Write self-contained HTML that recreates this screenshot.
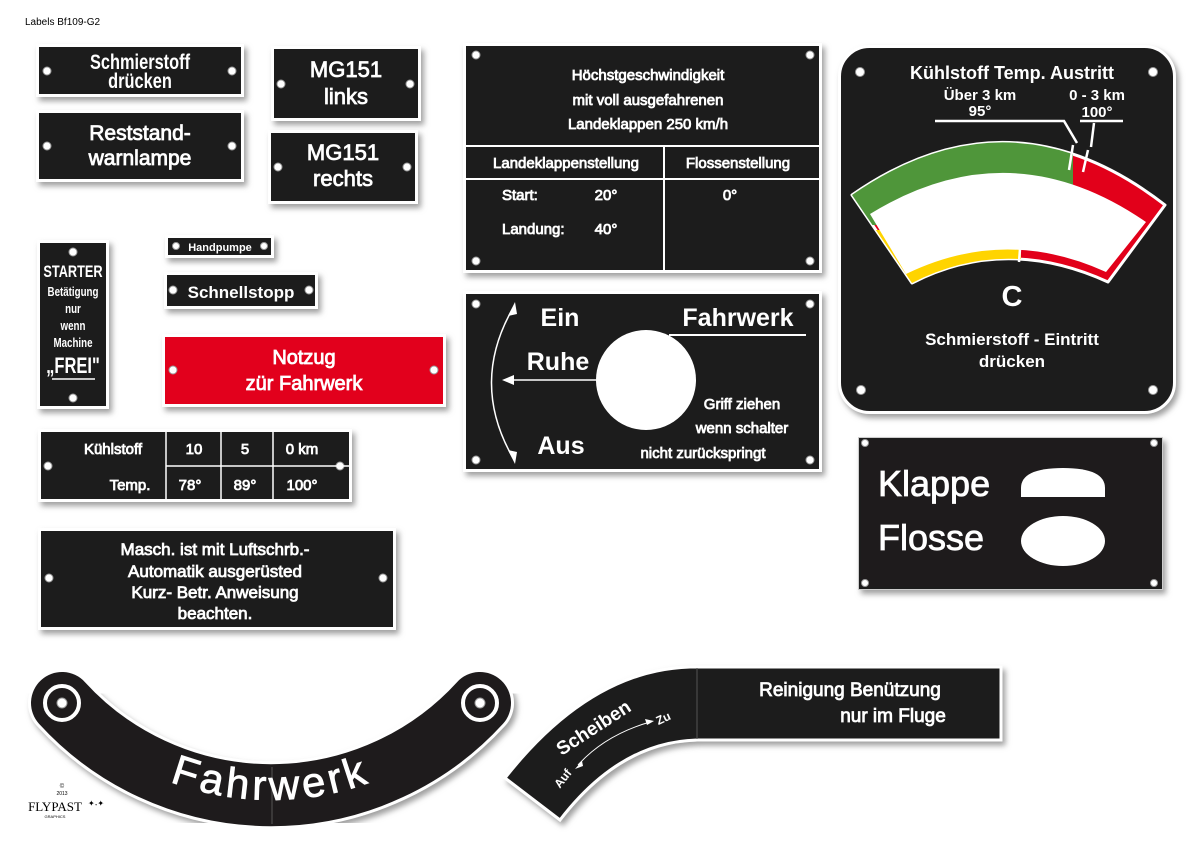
<!DOCTYPE html>
<html><head><meta charset="utf-8"><style>
html,body{margin:0;padding:0;background:#fff;overflow:hidden;}
svg{display:block;}
text{font-family:"Liberation Sans",sans-serif;fill:#fff;}
.b{font-weight:bold;}
.m{stroke:#fff;stroke-width:.8;}
.c{text-anchor:middle;}
</style></head><body>
<svg width="1191" height="842" viewBox="0 0 1191 842" xmlns="http://www.w3.org/2000/svg" xmlns:xlink="http://www.w3.org/1999/xlink">
<defs>
<filter id="sh" x="-10%" y="-10%" width="130%" height="140%"><feDropShadow dx="3" dy="4" stdDeviation="3" flood-color="#777" flood-opacity="0.7"/></filter>
<clipPath id="cg"><rect x="840" y="100" width="233" height="125"/></clipPath>
<clipPath id="cy"><rect x="840" y="230" width="181" height="80"/></clipPath>
<path id="tp" d="M0.4,610.5 A288,288 0 0 0 541.6,610.5" fill="none"/>
</defs>
<rect width="1191" height="842" fill="#fff"/>
<text x="25" y="25" style="fill:#000;font-size:10px">Labels Bf109-G2</text>

<g fill="#1e1b1c" stroke="#fff" stroke-width="3" filter="url(#sh)">
<rect x="37.5" y="45.5" width="205" height="50"/>
<rect x="37.5" y="111.5" width="205" height="69"/>
<rect x="272.5" y="47.5" width="147" height="72"/>
<rect x="269.5" y="131.5" width="147" height="71"/>
<rect x="38.5" y="241.5" width="69" height="166"/>
<rect x="166.5" y="236.5" width="106" height="20"/>
<rect x="165.5" y="273.5" width="151" height="34"/>
<rect x="163.5" y="335.5" width="281" height="70" fill="#e2001a"/>
<rect x="39.5" y="430.5" width="311" height="70"/>
<rect x="39.5" y="529.5" width="355" height="99"/>
<rect x="464.5" y="44.5" width="356" height="227"/>
<rect x="464.5" y="292.5" width="356" height="178"/>
<rect x="839.5" y="46.5" width="335" height="366" rx="30"/>
<rect x="858.5" y="437.5" width="304" height="152" stroke="#ccc" stroke-width="1"/>
</g>
<rect x="861" y="440" width="299" height="147" fill="#1e1b1c"/>

<g fill="#fff" stroke="#999" stroke-width="1">
<circle cx="47" cy="71" r="4"/><circle cx="232" cy="71" r="4"/>
<circle cx="47" cy="146" r="4"/><circle cx="232" cy="146" r="4"/>
<circle cx="281" cy="84" r="4"/><circle cx="410" cy="84" r="4"/>
<circle cx="278" cy="167" r="4"/><circle cx="407" cy="167" r="4"/>
<circle cx="73" cy="252" r="4"/><circle cx="73" cy="398" r="4"/>
<circle cx="176" cy="246" r="3.5"/><circle cx="264" cy="246" r="3.5"/>
<circle cx="173" cy="290" r="4"/><circle cx="309" cy="290" r="4"/>
<circle cx="173" cy="370" r="4"/><circle cx="434" cy="370" r="4"/>
<circle cx="48" cy="466" r="4"/><circle cx="340" cy="466" r="4"/>
<circle cx="49" cy="578" r="4"/><circle cx="383" cy="578" r="4"/>
<circle cx="476" cy="55" r="4"/><circle cx="810" cy="55" r="4"/><circle cx="476" cy="261" r="4"/><circle cx="810" cy="261" r="4"/>
<circle cx="476" cy="304" r="4"/><circle cx="810" cy="304" r="4"/><circle cx="476" cy="460" r="4"/><circle cx="810" cy="460" r="4"/>
<circle cx="860" cy="72" r="4.5"/><circle cx="1153" cy="72" r="4.5"/><circle cx="861" cy="390" r="4.5"/><circle cx="1153" cy="390" r="4.5"/>
<circle cx="865" cy="443" r="3.5"/><circle cx="1154" cy="443" r="3.5"/><circle cx="865" cy="583" r="3.5"/><circle cx="1154" cy="583" r="3.5"/>
</g>

<g transform="translate(140 0) scale(0.78 1)">
<text class="b c" x="0" y="69" font-size="21">Schmierstoff</text>
<text class="b c" x="0" y="88" font-size="21">drücken</text>
</g>
<text class="m c" x="140" y="140" font-size="21">Reststand-</text>
<text class="m c" x="140" y="165" font-size="21">warnlampe</text>
<text class="m c" x="346" y="77" font-size="22">MG151</text>
<text class="m c" x="346" y="104" font-size="22">links</text>
<text class="m c" x="343" y="160" font-size="22">MG151</text>
<text class="m c" x="343" y="186" font-size="22">rechts</text>
<g transform="translate(73 0) scale(0.75 1)">
<text class="b c" x="0" y="277" font-size="17">STARTER</text>
<text class="b c" x="0" y="296" font-size="13">Betätigung</text>
<text class="b c" x="0" y="313" font-size="13">nur</text>
<text class="b c" x="0" y="330" font-size="13">wenn</text>
<text class="b c" x="0" y="347" font-size="13">Machine</text>
<text class="b c" x="0" y="373" font-size="22">„FREI"</text>
</g>
<line x1="52" y1="379" x2="95" y2="379" stroke="#fff" stroke-width="1.5"/>
<text class="b c" x="220" y="251" font-size="11">Handpumpe</text>
<text class="b c" x="241" y="298" font-size="17">Schnellstopp</text>
<text class="m c" x="304" y="364" font-size="20">Notzug</text>
<text class="m c" x="304" y="390" font-size="20">zür Fahrwerk</text>

<g stroke="#fff" stroke-width="1.5"><line x1="166" y1="431" x2="166" y2="500"/><line x1="221" y1="431" x2="221" y2="500"/><line x1="273" y1="431" x2="273" y2="500"/><line x1="166" y1="466" x2="350" y2="466"/></g>
<text class="m c" x="113" y="454" font-size="15">Kühlstoff</text>
<text class="m c" x="130" y="490" font-size="15">Temp.</text>
<text class="m c" x="194" y="454" font-size="15">10</text>
<text class="m c" x="245" y="454" font-size="15">5</text>
<text class="m c" x="302" y="454" font-size="15">0 km</text>
<text class="m c" x="190" y="490" font-size="15">78°</text>
<text class="m c" x="245" y="490" font-size="15">89°</text>
<text class="m c" x="302" y="490" font-size="15">100°</text>

<text class="m c" x="215" y="555" font-size="17">Masch. ist mit Luftschrb.-</text>
<text class="m c" x="215" y="577" font-size="17">Automatik ausgerüsted</text>
<text class="m c" x="215" y="598" font-size="17">Kurz- Betr. Anweisung</text>
<text class="m c" x="215" y="619" font-size="17">beachten.</text>

<text class="m c" x="648" y="80" font-size="15">Höchstgeschwindigkeit</text>
<text class="m c" x="648" y="105" font-size="15">mit voll ausgefahrenen</text>
<text class="m c" x="648" y="129" font-size="15">Landeklappen 250 km/h</text>
<g stroke="#fff" stroke-width="2"><line x1="465" y1="146" x2="820" y2="146"/><line x1="465" y1="179" x2="820" y2="179"/><line x1="664" y1="146" x2="664" y2="271"/></g>
<text class="m c" x="566" y="168" font-size="15">Landeklappenstellung</text>
<text class="m c" x="738" y="168" font-size="15">Flossenstellung</text>
<text class="m" x="502" y="200" font-size="15">Start:</text>
<text class="m c" x="606" y="200" font-size="15">20°</text>
<text class="m" x="502" y="234" font-size="15">Landung:</text>
<text class="m c" x="606" y="234" font-size="15">40°</text>
<text class="m c" x="730" y="200" font-size="15">0°</text>

<text class="b c" x="560" y="326" font-size="25">Ein</text>
<text class="b c" x="738" y="326" font-size="25">Fahrwerk</text>
<line x1="669" y1="335" x2="806" y2="335" stroke="#fff" stroke-width="2"/>
<text class="b c" x="558" y="370" font-size="25">Ruhe</text>
<text class="b c" x="561" y="454" font-size="25">Aus</text>
<circle cx="646" cy="380" r="50" fill="#fff"/>
<text class="m c" x="742" y="409" font-size="15">Griff ziehen</text>
<text class="m c" x="742" y="433" font-size="15">wenn schalter</text>
<text class="m c" x="703" y="458" font-size="15">nicht zurückspringt</text>
<path d="M513,308 Q470,383 513,458" fill="none" stroke="#fff" stroke-width="1.5"/>
<path d="M515,302 L508,316 L517,314 Z M515,464 L508,450 L517,452 Z" fill="#fff"/>
<line x1="597" y1="380" x2="510" y2="380" stroke="#fff" stroke-width="1.5"/>
<path d="M502,380 L514,375 L514,385 Z" fill="#fff"/>

<text class="b c" x="1012" y="79" font-size="18">Kühlstoff Temp. Austritt</text>
<text class="b c" x="980" y="100" font-size="15">Über 3 km</text>
<text class="b c" x="980" y="116" font-size="15">95°</text>
<text class="b c" x="1097" y="100" font-size="15">0 - 3 km</text>
<text class="b c" x="1097" y="117" font-size="15">100°</text>
<path d="M852,195 Q1010,85 1165,205 L1108,282 Q1005,235 912,283 Z" fill="#e2001a" stroke="#fff" stroke-width="3" stroke-linejoin="round"/>
<path d="M852,195 Q1010,85 1165,205 L1108,282 Q1005,235 912,283 Z" fill="#4f963a" clip-path="url(#cg)"/>
<path d="M852,195 Q1010,85 1165,205 L1108,282 Q1005,235 912,283 Z" fill="#ffd400" clip-path="url(#cy)"/>
<path d="M870,214 Q1010,128 1146,222 L1106,272 Q1005,226 906,274 Z" fill="#fff"/>
<g stroke="#fff" stroke-width="2.5" fill="none">
<line x1="1073" y1="145" x2="1069" y2="170"/><line x1="1088" y1="150" x2="1083" y2="172"/><line x1="1021" y1="236" x2="1019" y2="262"/>
<polyline points="935,121 1064,121 1077,143"/><line x1="1080" y1="121" x2="1123" y2="121"/><line x1="1094" y1="123" x2="1091" y2="147"/>
</g>
<text class="b c" x="1012" y="306" font-size="29">C</text>
<text class="b c" x="1012" y="345" font-size="17">Schmierstoff - Eintritt</text>
<text class="b c" x="1012" y="367" font-size="17">drücken</text>

<text x="878" y="496" font-size="36" class="m">Klappe</text>
<text x="878" y="550" font-size="36" class="m">Flosse</text>
<path d="M1021,497 L1021,488 Q1021,468 1063,468 Q1105,468 1105,488 L1105,497 Z" fill="#fff"/>
<ellipse cx="1063" cy="541" rx="42" ry="25" fill="#fff"/>

<g fill="none" stroke-linecap="round" filter="url(#sh)">
<path d="M62,703 A283,283 0 0 0 480,703" stroke="#fff" stroke-width="68"/>
</g>
<path d="M62,703 A283,283 0 0 0 480,703" fill="none" stroke="#1e1b1c" stroke-width="62" stroke-linecap="round"/>
<line x1="272" y1="767" x2="272" y2="824" stroke="#555" stroke-width="1"/>
<g fill="none" stroke="#fff" stroke-width="4"><circle cx="62" cy="703" r="17"/><circle cx="480" cy="703" r="17"/></g>
<g fill="#fff" stroke="#999"><circle cx="62" cy="703" r="5"/><circle cx="480" cy="703" r="5"/></g>
<text font-size="42" class="m" letter-spacing="4"><textPath xlink:href="#tp" href="#tp" startOffset="50%" text-anchor="middle">Fahrwerk</textPath></text>

<path d="M1001,667 L690,667 Q590,670 505,778 L560,820 Q620,742 697,740 L1001,740 Z" fill="#1e1b1c" stroke="#fff" stroke-width="3" filter="url(#sh)"/>
<line x1="697" y1="668" x2="697" y2="739" stroke="#555" stroke-width="1"/>
<text class="m c" x="850" y="696" font-size="19">Reinigung Benützung</text>
<text class="m c" x="893" y="722" font-size="19">nur im Fluge</text>
<text class="b c" x="597" y="733" font-size="19" transform="rotate(-33 597 733)">Scheiben</text>
<text class="b c" x="665" y="722" font-size="12" transform="rotate(-25 665 722)">Zu</text>
<text class="b c" x="566" y="781" font-size="12" transform="rotate(-52 566 781)">Auf</text>
<path d="M578,765 Q605,735 650,722" fill="none" stroke="#fff" stroke-width="1"/>
<path d="M575,769 L582,761 L583,766 Z M654,721 L645,719 L647,725 Z" fill="#fff"/>

<text x="62" y="788" font-size="6" style="fill:#000" class="c">©</text>
<text x="62" y="795" font-size="5" style="fill:#000" class="c">2013</text>
<text x="55" y="811" font-size="13" style="fill:#000;font-family:'Liberation Serif',serif" class="c">FLYPAST</text>
<text x="55" y="818" font-size="4" style="fill:#000" class="c">GRAPHICS</text>
<text x="88" y="806" font-size="8" style="fill:#000">✦˖✦</text>
</svg>
</body></html>
